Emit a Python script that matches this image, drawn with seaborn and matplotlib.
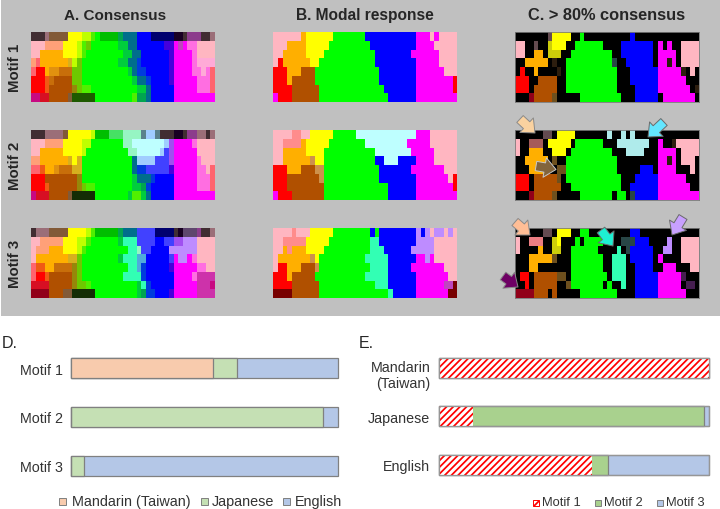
import matplotlib
matplotlib.use("Agg")
import matplotlib.pyplot as plt
from matplotlib.colors import ListedColormap
from matplotlib.patches import Rectangle, FancyArrowPatch
from matplotlib.transforms import ScaledTranslation
import numpy as np
import pandas as pd
import seaborn as sns

# ---------- colour terms (one key per response colour / blend) ----------
term_colors = {
    'P': (255,182,193), 'O': (255,175,0), 'Y': (255,255,0), 'G': (0,255,0), 'B': (0,0,255),
    'M': (255,0,255), 'R': (255,0,0), 'N': (176,80,0), 'C': (190,255,255), 'S': (255,140,140),
    'T': (50,255,180), 'V': (190,140,255), 'D': (120,0,0), 'K': (0,0,0), 'F': (205,145,75),
    'H': (190,70,190),
    'a': (65,45,50), 'b': (155,110,120), 'c': (130,90,55), 'y': (190,255,0), 'l': (80,240,0),
    'g': (0,190,0), 'h': (0,165,80), 'e': (0,110,140), 'u': (0,0,110), 'w': (25,0,35),
    'p': (140,60,140), 'f': (30,90,0), 'j': (20,45,5), 'q': (255,110,225), 'r': (255,100,110),
    's': (255,160,120), 'o': (215,175,30), 'n': (200,110,10), 'i': (200,10,130), 'd': (215,15,35),
    't': (110,200,0), 'v': (0,60,220), 'x': (0,205,60), 'z': (255,170,215), 'k': (225,145,15),
    'E': (240,90,20), 'Q': (150,135,10), 'L': (70,225,100), 'm': (150,245,195), 'I': (90,130,140),
    'J': (160,205,255), 'W': (65,65,255), 'X': (80,170,220), 'Z': (95,70,110), 'U': (205,50,170),
    'A': (70,0,220), '@': (160,80,240),
    '0': (235,125,130), '1': (205,205,10), '2': (100,75,80), '3': (45,30,15), '4': (145,0,25),
    '5': (40,70,70), '6': (165,90,90), '7': (175,235,235), '8': (70,30,80), '9': (110,80,30),
}

# ---------- panels: each row is "<key><run length>" ----------
consensus_motif1 = [
    "a3 b1 c4 Y3 y2 l1 G1 g4 h1 e3 B3 u5 w2 a1 p3 a2 b1",
    "P3 s4 Y3 y1 l1 t1 G6 x2 e2 B6 A2 M1 H1 M1 q2 P4",
    "P2 O5 Y3 y1 l1 G8 x2 e2 B6 A1 M4 q1 P4",
    "s1 r1 O6 o1 y1 t1 G8 x2 e2 v1 B6 A1 M4 q1 z4",
    "r1 R2 O1 k2 n3 t2 G10 x1 e1 v2 B5 A1 M4 q2 z1 q1 r1",
    "R3 E1 n1 N4 t2 G11 x1 e2 v1 B4 A1 M5 q3 r1",
    "R3 E1 N5 Q1 t1 l2 G10 x2 e1 B5 M5 q3 r1",
    "i2 d2 N4 c1 f5 G8 l1 h2 e1 B5 M9",
]
consensus_motif2 = [
    "a3 b4 c1 Y5 y1 g3 L3 m4 I1 J2 I1 a3 w2 a1 p2 b2 a1 b1",
    "P3 s4 Y4 y2 G7 m2 C7 J1 @1 M4 q1 P4",
    "P2 O5 Y4 y1 G9 m2 C5 J1 W1 @1 M5 P4",
    "s2 O6 o1 Y1 o1 G11 e1 J4 W3 @1 M5 q1 P3",
    "r2 E1 O2 k1 n3 o2 G11 e1 v2 W5 A1 M5 q2 P1 r1",
    "R3 N7 Q1 G11 x1 e3 v1 B4 M5 q3 r1",
    "R3 E1 N6 Q1 t1 l2 G8 x2 h1 v1 B5 M5 q3 r1",
    "i1 d3 N4 c1 j5 G7 x1 l2 x1 e1 B5 M9",
]
consensus_motif3 = [
    "a1 b3 c4 Y4 y1 l1 g5 h1 e3 W4 u4 a1 w1 Z3 p1 a2 b1",
    "P2 s5 Y3 y2 l1 G6 x1 T3 W4 B2 W2 @2 V3 P4",
    "P1 s3 O3 Y3 y1 l1 G9 T2 m1 W2 B4 V6 P4",
    "P1 O7 o2 t1 G8 x1 T3 X2 B5 W1 M1 V2 M1 q1 P4",
    "r1 E2 O2 n4 Q1 t1 G10 T2 X1 v1 B5 A1 M5 q2 P2",
    "r1 R2 E1 N5 Q1 t1 G9 T4 v1 B6 M4 q1 U4",
    "d4 N5 Q1 t2 l1 G10 x1 T1 v1 B5 M5 U3 i1",
    "44 N3 c2 j5 G9 x1 h1 v2 B3 A1 M5 U4",
]
modal_motif1 = [
    "P6 O1 Y6 G7 B11 M3 P1 M1 P4",
    "P3 O4 Y5 G9 B10 M4 P5",
    "P2 O5 Y4 G11 B8 M6 P4",
    "P1 R1 O6 Y2 G12 B9 M5 P4",
    "R3 O3 N3 G14 B8 M6 P3",
    "R3 O1 N5 G14 B8 M8 R1",
    "R4 N6 G14 B7 M8 R1",
    "M1 R3 N6 G15 B6 M9",
]
modal_motif2 = [
    "P4 S2 P2 Y5 G5 C13 M3 P6",
    "P2 S4 O1 Y5 G8 C9 M5 P6",
    "P2 O5 Y4 G11 C8 M5 P5",
    "P2 O6 F1 Y2 G11 B2 C3 B4 M4 P5",
    "R3 O3 N3 F2 G12 B7 M7 P3",
    "R3 N7 F1 G12 B8 M7 P1 R1",
    "R3 N8 G14 B6 M8 R1",
    "M1 R3 N7 G14 B6 M9",
]
modal_motif3 = [
    "P4 S1 P3 Y5 G8 B1 G1 B8 V1 B1 V1 P1 V2 P1 V1 P1",
    "P2 S5 Y5 G9 T2 B8 V4 P5",
    "P2 O1 S1 O3 Y4 G10 T3 B6 V5 P5",
    "P1 O7 F1 Y1 G10 T5 B6 M2 V1 M1 P5",
    "P1 R2 O3 N3 F1 G11 T4 B5 M7 P3",
    "R3 O1 N5 G11 T5 B6 M7 P2",
    "R4 N6 G12 T3 B6 M6 H2 D1",
    "D4 N6 G15 T1 B5 M7 D2",
]
strict_motif1 = [
    "K7 21 Y4 K2 G1 K10 B1 K14",
    "P2 K2 21 K2 11 Y3 K2 G6 K4 B7 K1 M1 K1 M1 K2 P4",
    "P2 K2 O2 K1 13 K2 G9 K2 B7 K1 M4 K1 P4",
    "K2 O5 K1 31 K2 G10 51 K2 B6 K1 M2 31 M1 K1 P4",
    "K1 R1 K2 O1 K4 31 K1 G11 K3 B6 M5 31 K1 P1 K1",
    "R3 K2 N4 K2 G11 K3 B6 M6 K3",
    "R3 K1 N5 K2 G11 K4 B5 M7 K1 31",
    "K3 41 N4 91 K5 G9 K3 B5 K1 M7 K1",
]
strict_motif2 = [
    "K6 22 K1 Y4 K7 71 K2 71 K1 71 K14",
    "P1 K2 63 K1 Y5 K1 G6 K3 77 K2 M1 K2 31 P5",
    "P1 K2 O3 K2 Y3 K1 G9 K3 74 K3 M4 K1 P4",
    "K2 O5 K1 91 K2 G11 K9 M2 31 M1 K1 P3 K1",
    "K3 O4 K2 92 G11 K5 B3 K1 M4 K3 P1 K1",
    "R3 K1 N5 91 K1 G12 K3 B5 M6 K3",
    "R3 K1 N6 K2 G11 K2 B6 M7 K2",
    "K3 41 N4 91 K5 G7 K1 G2 K1 51 B5 M9",
]
strict_motif3 = [
    "K6 22 K1 Y3 K2 G2 K9 B2 K13",
    "P1 K2 03 K2 11 Y1 K3 G1 K1 G4 K4 53 B3 K4 V1 K2 P4",
    "P1 K4 O1 K2 12 K2 G6 K4 T1 K1 51 B5 K2 V2 K2 P4",
    "K3 O5 91 K3 G7 K2 T3 K1 B5 K1 M1 K4 P4",
    "K3 O2 K7 G7 K2 T3 K2 B4 K2 M3 K3 P2",
    "K1 R2 K1 N5 92 K1 G8 K1 T3 K2 B5 M5 81 K3",
    "K2 R1 K1 N5 K2 91 G7 K1 G1 K2 T1 K2 B5 M5 K1 82 K1",
    "44 N3 K1 N1 K5 G8 K4 B5 M6 K3",
]

column_titles = ["A. Consensus", "B. Modal response", "C. > 80% consensus"]
motif_labels = ["Motif 1", "Motif 2", "Motif 3"]

# ---------- stacked bars ----------
d_mandarin = [53.3, 0.0, 0.0]
d_japanese = [9.0, 94.4, 4.9]
d_english = [37.7, 5.6, 95.1]
languages = ["Mandarin (Taiwan)", "Japanese", "English"]

e_categories = ["Mandarin\n(Taiwan)", "Japanese", "English"]
e_motif1 = [100.0, 12.6, 56.8]
e_motif2 = [0.0, 85.6, 6.0]
e_motif3 = [0.0, 1.8, 37.2]

W, H = 720, 510
sns.set_theme(style="white")
plt.rcParams['font.family'] = ['Liberation Sans', 'DejaVu Sans']
plt.rcParams['hatch.linewidth'] = 1.25
fig = plt.figure(figsize=(W / 100, H / 100), dpi=100, facecolor='white')


def fx(x):
    return x / W


def fy(y):
    return 1 - y / H


def px_axes(x0, y0, x1, y1):
    return fig.add_axes([fx(x0), fy(y1), (x1 - x0) / W, (y1 - y0) / H])


fig.add_artist(Rectangle((fx(1), fy(316.5)), fx(719), 316.5 / H, transform=fig.transFigure,
                         fc='#c0c0c0', ec='none', zorder=-5))

keys = list(term_colors)
cmap = ListedColormap([tuple(c / 255 for c in term_colors[k]) for k in keys])


def decode(rows):
    grid = []
    for row in rows:
        cells = []
        for tok in row.split():
            cells += [keys.index(tok[0])] * int(tok[1:])
        assert len(cells) == 40, (row, len(cells))
        grid.append(cells)
    return np.array(grid)


panels = [[consensus_motif1, modal_motif1, strict_motif1],
          [consensus_motif2, modal_motif2, strict_motif2],
          [consensus_motif3, modal_motif3, strict_motif3]]
col_x = [(31, 215), (273.3, 457.3), (515.3, 699.3)]
row_y = [(33.3, 103), (131, 201), (229.3, 299)]
title_x = [115, 365, 607]

for r, row_panels in enumerate(panels):
    for c, rows in enumerate(row_panels):
        ax = px_axes(col_x[c][0], row_y[r][0], col_x[c][1], row_y[r][1])
        sns.heatmap(decode(rows), ax=ax, cmap=cmap, vmin=-0.5, vmax=len(keys) - 0.5,
                    cbar=False, xticklabels=False, yticklabels=False)
        if c == 2:
            for s in ax.spines.values():
                s.set_visible(True)
                s.set_color('#7a7a7a')
                s.set_linewidth(0.6)

for t, x, fs in zip(column_titles, title_x, [11.0, 11.2, 11.8]):
    fig.text(fx(x), fy(15.5), t, ha='center', va='center', fontsize=fs, fontweight='bold', color='#262626')
for t, y in zip(motif_labels, [68, 166, 264]):
    fig.text(fx(15), fy(y), t, ha='center', va='center', rotation=90, fontsize=10.8, fontweight='bold', color='#262626')

# ---------- arrows on the > 80 % panels ----------
arrows = [
    ((520, 120), (535, 134), '#fad2a0', '#8a8a8a'),
    ((664, 123), (648, 138), '#64e6ff', '#6a6a6a'),
    ((536, 167), (556, 170.5), '#82643c', '#c8c8c8'),
    ((515, 223), (530, 236), '#ffbe96', '#8a8a8a'),
    ((601, 231), (613, 247), '#1ef0d2', '#6a6a6a'),
    ((683, 218), (672, 236), '#c8a0ff', '#6a6a6a'),
    ((503, 277), (518, 288), '#6e0064', '#8a8a8a'),
]
for a, b, fc, ec in arrows:
    fig.add_artist(FancyArrowPatch((fx(a[0]), fy(a[1])), (fx(b[0]), fy(b[1])), transform=fig.transFigure,
                                   arrowstyle='simple,head_length=0.55,head_width=0.95,tail_width=0.45',
                                   mutation_scale=15, fc=fc, ec=ec, lw=0.7, shrinkA=0, shrinkB=0, zorder=5))


# ---------- stacked bar helper: cumulative layers, longest first ----------
def layer(ax, cats, values, color, edge='#808080', lw=0.9):
    df = pd.DataFrame({'cat': cats, 'v': values})
    sns.barplot(df, x='v', y='cat', ax=ax, color=color, width=0.41, saturation=1,
                edgecolor=edge, linewidth=lw, orient='h')


def finish(ax, fs):
    ax.set_xlim(0, 100)
    ax.set_xlabel('')
    ax.set_ylabel('')
    ax.set_xticks([])
    ax.tick_params(axis='y', length=0, pad=6, labelsize=fs, labelcolor='#333333')
    sns.despine(ax=ax, left=True, bottom=True)
    ax.patch.set_alpha(0)
    for bar in ax.patches:
        bar.set_clip_on(False)


# Panel D
ax_d = px_axes(71.3, 344.8, 337.7, 491)
d_man = np.array(d_mandarin)
d_jap = d_man + np.array(d_japanese)
d_eng = d_jap + np.array(d_english)
layer(ax_d, motif_labels, d_eng, '#b4c7e7')
layer(ax_d, motif_labels, d_jap, '#c5e0b4')
layer(ax_d, motif_labels, d_man, '#f8cbad')
finish(ax_d, 10.3)

# Panel E
ax_e = px_axes(438.7, 344.2, 709, 490.2)
e1 = np.array(e_motif1)
e2 = e1 + np.array(e_motif2)
e3 = e2 + np.array(e_motif3)
layer(ax_e, e_categories, e3, '#b4c7e7')
layer(ax_e, e_categories, e2, '#a9d18e')
layer(ax_e, e_categories, e1, 'white', edge='#ff0000', lw=0)
for bar in ax_e.patches[-3:]:
    bar.set_hatch('/////')
    bar.set_edgecolor('#ff0000')
    bar.set_linewidth(0)
sns.barplot(pd.DataFrame({'cat': e_categories, 'v': e3}), x='v', y='cat', ax=ax_e, width=0.41,
            fill=False, color='#969696', linewidth=0.9, orient='h')
finish(ax_e, 10.3)
lab = ax_e.get_yticklabels()[0]
lab.set_transform(lab.get_transform() + ScaledTranslation(0, -4.5 / 100, fig.dpi_scale_trans))

# ---------- panel letters ----------
fig.text(fx(2), fy(344), "D.", ha='left', va='center', fontsize=11.5, color='#262626')
fig.text(fx(359), fy(344), "E.", ha='left', va='center', fontsize=11.5, color='#262626')


# ---------- hand-placed legends ----------
def legend_item(x_box, x_text, y, label, color, fs, size=6, hatch=None, edge='#7f7f7f'):
    fig.add_artist(Rectangle((fx(x_box), fy(y + size / 2)), size / W, size / H, transform=fig.transFigure,
                             fc=color, ec=edge, lw=0.7, hatch=hatch))
    fig.text(fx(x_text), fy(y), label, ha='left', va='center', fontsize=fs, color='#333333')


for lab_txt, col, xb, xt in zip(languages, ['#f8cbad', '#c5e0b4', '#b4c7e7'], [58.5, 200.5, 283], [72, 212, 295]):
    legend_item(xb, xt, 502, lab_txt, col, 10.4, size=7)
legend_item(533, 542, 503.5, motif_labels[0], 'white', 9.3, hatch='/////', edge='#ff0000')
legend_item(595, 603.5, 503.5, motif_labels[1], '#a9d18e', 9.3)
legend_item(656.5, 665.5, 503.5, motif_labels[2], '#b4c7e7', 9.3)

fig.savefig('out.png', dpi=100)
